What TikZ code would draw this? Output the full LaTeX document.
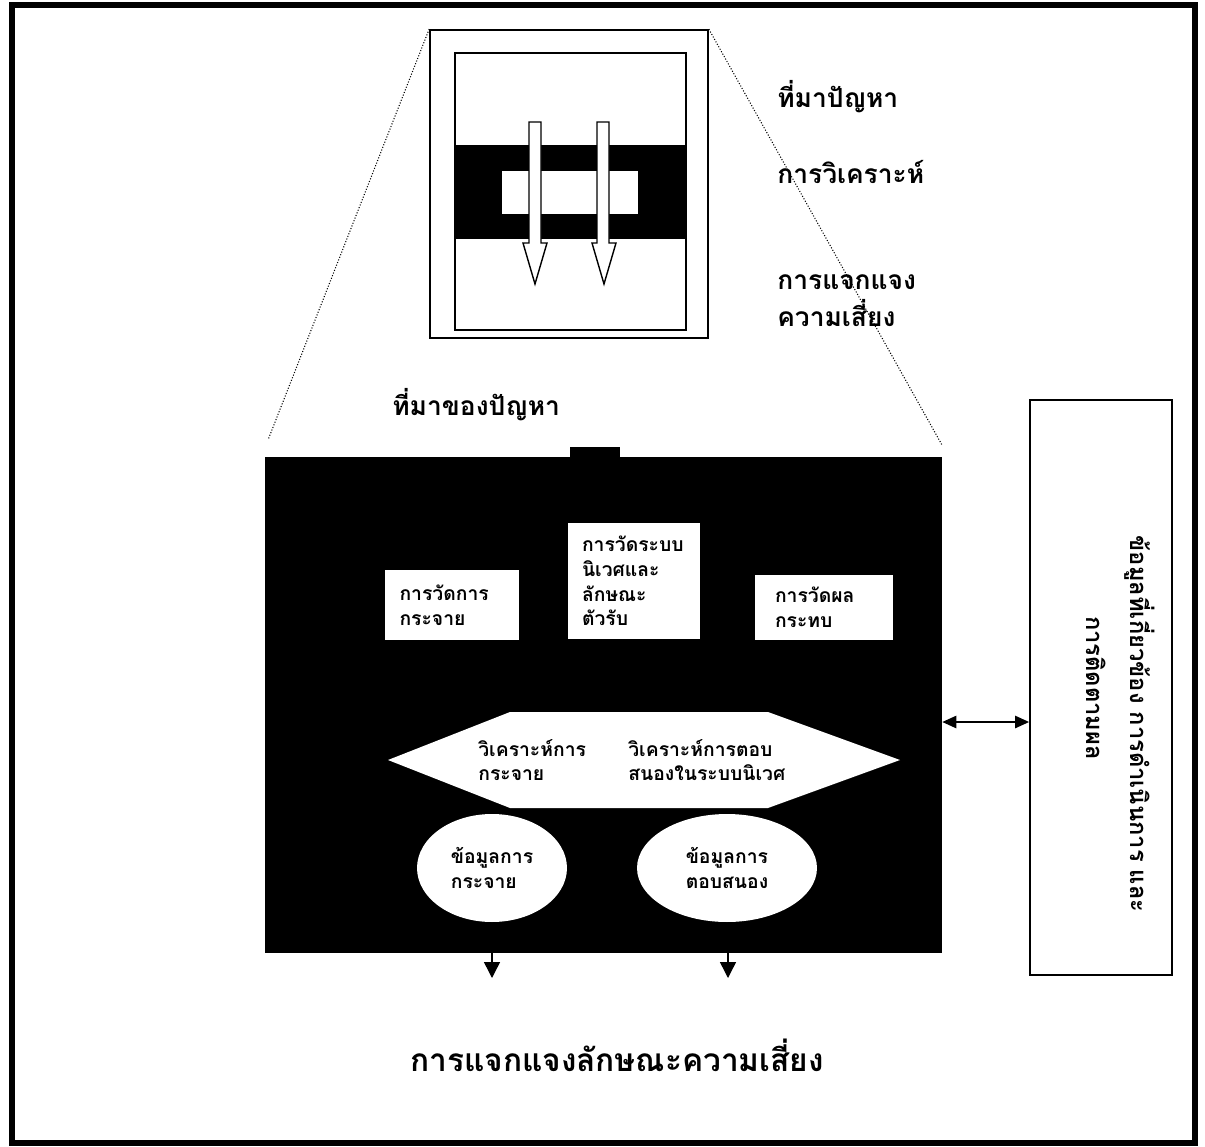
\documentclass[tikz,border=0pt]{standalone}
\usepackage{fontspec}
\usepackage{tikz}
\usetikzlibrary{arrows.meta,shapes.geometric}
\newfontfamily\thaifont[Script=Thai]{Loma}

\tikzset{
  thlabel/.style={font=\thaifont\bfseries\fontsize{15}{21}\selectfont, align=left, inner sep=0pt},
  thbig/.style={font=\thaifont\bfseries\fontsize{18}{21}\selectfont, inner sep=0pt},
  thsmall/.style={font=\thaifont\bfseries\fontsize{11}{14}\selectfont, align=left},
  thside/.style={font=\thaifont\bfseries\fontsize{13.5}{18}\selectfont, inner sep=0pt, rotate=-90},
  whitebox/.style={fill=white, inner ysep=0pt, thsmall},
  hollowarrow/.style={fill=white, draw=black, line width=0.8pt},
  outarrow/.style={-{Triangle[length=9pt,width=9pt]}, line width=0.8pt},
}

\begin{document}
\begin{tikzpicture}[x=0.02cm, y=-0.02cm]
  \useasboundingbox (0,0) rectangle (1205,1147);
  % outer frame
  \draw[line width=3.4pt] (12,5) rectangle (1195,1143);

  % small picture at the top
  \node[draw, line width=1pt, minimum width=5.56cm, minimum height=6.16cm, inner sep=0pt] (frame) at (569,184) {};
  \node[draw, line width=1pt, minimum width=4.62cm, minimum height=5.54cm, inner sep=0pt] (page) at (570.5,191.5) {};
  \fill (455,145) rectangle (686,239);
  \fill[white] (502,171) rectangle (638,214);
  % two hollow arrows
  \draw[hollowarrow] (529,122) -- (541,122) -- (541,243) -- (547,243) -- (535,284) -- (523,243) -- (529,243) -- cycle;
  \draw[hollowarrow] (597,122) -- (609,122) -- (609,243) -- (616,243) -- (604,284) -- (592,243) -- (597,243) -- cycle;

  % labels of the small picture
  \node[thlabel, anchor=west] (srcshort) at (777,97) {ที่มาปัญหา};
  \node[thlabel, anchor=west] (analyse) at (777,172) {การวิเคราะห์};
  \node[thlabel, anchor=west] (riskchar) at (777,301) {การแจกแจง\\ความเสี่ยง};

  % black box
  \node[fill=black, minimum width=13.54cm, minimum height=9.92cm, inner sep=0pt] (bigbox) at (603.5,705) {};
  \fill (570,447) rectangle (620,460);
  \node[thlabel, anchor=west] (source) at (392,405) {ที่มาของปัญหา};

  % dotted zoom lines
  \coordinate (cutleft) at (268,440);
  \coordinate (cutright) at (942,445);
  \draw[densely dotted, line width=0.6pt] (frame.north west) -- (cutleft);
  \draw[densely dotted, line width=0.6pt] (frame.north east) -- (cutright);

  % three measurements
  \node[whitebox, text width=2.1cm, inner xsep=0.3cm, minimum height=1.4cm] (measspread) at (452,605) {การวัดการ\\กระจาย};
  \node[whitebox, text width=2.08cm, inner xsep=0.28cm, minimum height=2.34cm] (measeco) at (634,581) {การวัดระบบ\\นิเวศและ\\ลักษณะ\\ตัวรับ};
  \node[whitebox, text width=1.96cm, inner xsep=0.4cm, minimum height=1.3cm] (measeffect) at (824,607) {การวัดผล\\กระทบ};

  % analysis
  \fill[white] (388,760) -- (510,712) -- (768,712) -- (900,760) -- (768,808) -- (510,808) -- cycle;
  \node[thsmall, anchor=west, inner sep=0pt] (anspread) at (478,760) {วิเคราะห์การ\\กระจาย};
  \node[thsmall, anchor=west, inner sep=0pt] (anresp) at (628,760) {วิเคราะห์การตอบ\\สนองในระบบนิเวศ};

  % data
  \node[ellipse, fill=white, minimum width=3cm, minimum height=2.16cm, inner sep=0pt, thsmall] (spreaddata) at (492,868) {ข้อมูลการ\\กระจาย};
  \node[ellipse, fill=white, minimum width=3.6cm, minimum height=2.16cm, inner sep=0pt, thsmall] (respdata) at (727,868) {ข้อมูลการ\\ตอบสนอง};

  % outputs
  \coordinate (spreadout) at (492,978);
  \coordinate (respout) at (728,978);
  \draw[outarrow] (spreaddata |- bigbox.south) -- (spreadout);
  \draw[outarrow] (respout |- bigbox.south) -- (respout);
  \node[thbig] (result) at (617,1055) {การแจกแจงลักษณะความเสี่ยง};

  % side box
  \node[draw, line width=1pt, minimum width=2.84cm, minimum height=11.5cm, inner sep=0pt] (infobox) at (1101,687.5) {};
  \node[thside] (infotxt) at (1140,724) {ข้อมูลที่เกี่ยวข้อง การดำเนินการ และ};
  \node[thside] (infotxtb) at (1096,688) {การติดตามผล};
  \coordinate (linky) at (990,722);
  \draw[{Triangle[length=8pt,width=7pt]}-{Triangle[length=8pt,width=7pt]}, line width=1pt] (bigbox.east |- linky) -- (infobox.west |- linky);
\end{tikzpicture}
\end{document}
